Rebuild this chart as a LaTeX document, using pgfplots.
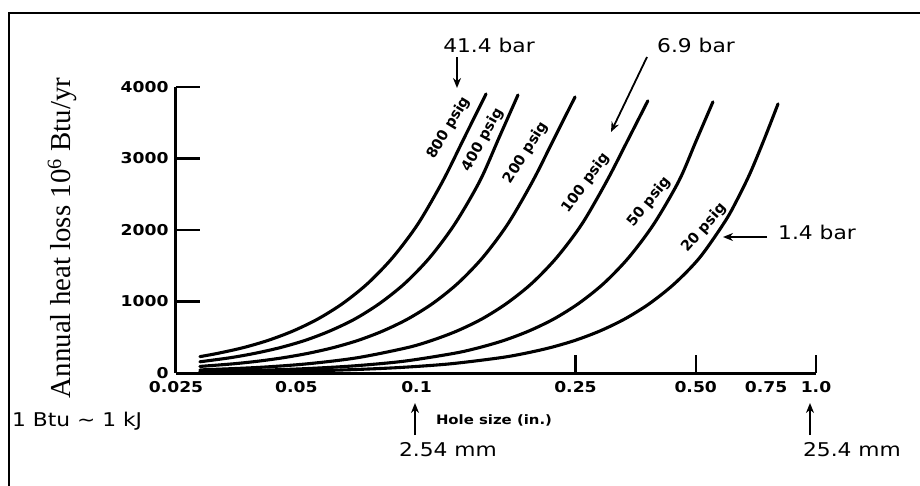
\documentclass[border=0pt]{standalone}
\usepackage{fontspec}
\usepackage{pgfplots}
\pgfplotsset{compat=1.18}
\usetikzlibrary{arrows.meta}
\setmainfont{DejaVu Sans}
\newfontfamily\serifface{Liberation Serif}

\pgfplotsset{curve/.style={black, line width=3.1bp, smooth, line cap=round}}
\tikzset{
  note/.style={font=\fontsize{19}{19}\selectfont, xscale=1.15, inner sep=0pt},
  plab/.style={font=\bfseries\fontsize{14.5}{14.5}\selectfont, inner sep=0pt},
  arr/.style={line width=1.8bp, -{Stealth[length=10bp,width=8bp]}},
}

\begin{document}
\begin{tikzpicture}
\useasboundingbox (0,0) rectangle (920bp,-486bp);
\begin{axis}[
  at={(176bp,-373bp)}, anchor=south west,
  width=640bp, height=286bp, scale only axis,
  xmode=log, xmin=0.025, xmax=1, ymin=0, ymax=4000,
  axis lines*=left,
  axis line style={line width=3bp},
  tick align=inside,
  major tick length=18bp,
  tick style={line width=2.4bp, black},
  xminorticks=false, yminorticks=false,
  xtick={0.025,0.25,0.5,1},
  xticklabels={0.025,0.25,0.50,1.0},
  extra x ticks={0.05,0.1,0.75}, extra x tick labels={0.05,0.1,0.75},
  extra x tick style={major tick length=0pt},
  ytick={0}, yticklabels={0},
  extra y ticks={1000,2000,3000,4000},
  extra y tick labels={1000,2000,3000,4000},
  extra y tick style={major tick length=24bp},
  ticklabel style={font=\bfseries\fontsize{15}{15}\selectfont, xscale=1.15},
  xticklabel style={yshift=-5bp},
  yticklabel style={xshift=-3bp},
  clip=false,
]
% 800 psig
\addplot[curve] coordinates {
  (0.0287,229) (0.0318,275) (0.0368,354) (0.0425,456) (0.0491,588)
  (0.0567,757) (0.0655,976) (0.0756,1256) (0.0873,1619) (0.1009,2087)
  (0.1165,2690) (0.1315,3283) (0.1493,3903)
};
% 400 psig
\addplot[curve] coordinates {
  (0.0287,157) (0.0341,213) (0.0394,275) (0.0455,354) (0.0526,456)
  (0.0607,588) (0.0702,757) (0.0810,976) (0.0936,1256) (0.1081,1619)
  (0.1248,2087) (0.1442,2690) (0.1609,3290) (0.1795,3889)
};
% 200 psig
\addplot[curve] coordinates {
  (0.0287,92) (0.0347,128) (0.0401,165) (0.0463,213) (0.0535,275)
  (0.0618,354) (0.0714,456) (0.0824,588) (0.0952,757) (0.1100,976)
  (0.1270,1256) (0.1467,1619) (0.1694,2087) (0.1957,2690) (0.2209,3276)
  (0.2494,3861)
};
% 100 psig
\addplot[curve] coordinates {
  (0.0287,43) (0.0399,77) (0.0532,128) (0.0710,213) (0.0947,354)
  (0.1093,456) (0.1263,588) (0.1459,757) (0.1684,976) (0.1946,1256)
  (0.2247,1619) (0.2597,2087) (0.2998,2690) (0.3384,3262) (0.3794,3806)
};
% 50 psig
\addplot[curve] coordinates {
  (0.0287,21) (0.0392,36) (0.0523,60) (0.0698,100) (0.0930,165)
  (0.1241,275) (0.1433,354) (0.1656,456) (0.1912,588) (0.2209,757)
  (0.2551,976) (0.2947,1256) (0.3403,1619) (0.3931,2087) (0.4541,2690)
  (0.5007,3241) (0.5521,3792)
};
% 20 psig
\addplot[curve] coordinates {
  (0.0287,10) (0.0511,28) (0.0682,46) (0.0909,77) (0.1213,128)
  (0.1618,213) (0.1869,275) (0.2159,354) (0.2493,456) (0.2879,588)
  (0.3325,757) (0.3842,976) (0.4437,1256) (0.5125,1619) (0.5919,2119)
  (0.6343,2420) (0.6836,2791) (0.7412,3262) (0.8035,3764)
};
\end{axis}

\begin{scope}[x=1bp, y=-1bp]
  % frame
  \draw[line width=2bp] (9,486) -- (9,13) -- (920,13);
  % y label
  \node[font=\serifface\fontsize{29}{29}\selectfont, rotate=90, anchor=base, inner sep=0pt]
    at (70,238) {Annual heat loss 10\textsuperscript{6} Btu/yr};
  % curve labels
  \node[plab, rotate=59] at (449,128) {800 psig};
  \node[plab, rotate=61] at (483,140) {400 psig};
  \node[plab, rotate=58] at (526,153) {200 psig};
  \node[plab, rotate=53] at (586,183) {100 psig};
  \node[plab, rotate=51] at (649,202) {50 psig};
  \node[plab, rotate=49] at (704,228) {20 psig};
  % axis caption
  \node[font=\bfseries\fontsize{13}{13}\selectfont, xscale=1.15, inner sep=0pt] at (494,420) {Hole size (in.)};
  % annotations
  \node[note] at (489,45) {41.4 bar};
  \draw[arr] (457,57) -- (457,88);
  \node[note] at (696,45) {6.9 bar};
  \draw[arr] (647,57) -- (611,132);
  \node[note] at (817,232) {1.4 bar};
  \draw[arr] (767,237) -- (723,237);
  \node[note, anchor=west] at (12,421) {1 Btu \char"223C{} 1 kJ};
  \node[note] at (448,450) {2.54 mm};
  \draw[arr] (415,435) -- (415,403);
  \node[note] at (852,450) {25.4 mm};
  \draw[arr] (810,435) -- (810,403);
\end{scope}
\end{tikzpicture}
\end{document}
